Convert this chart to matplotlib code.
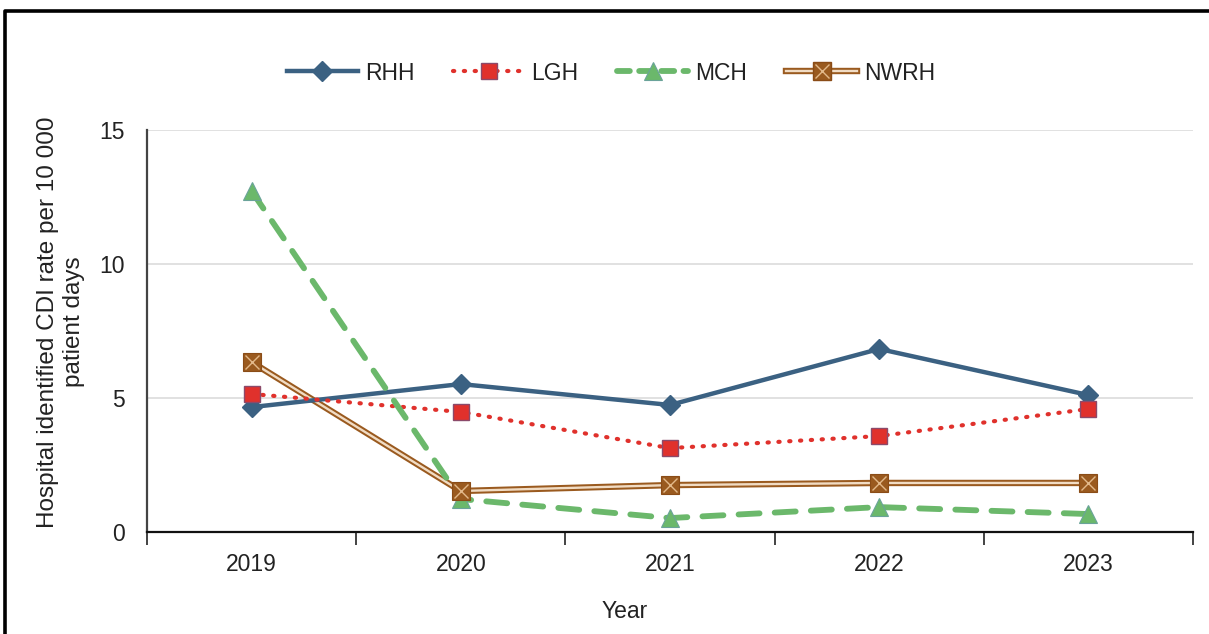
import matplotlib
matplotlib.use("Agg")
import matplotlib.pyplot as plt
from matplotlib.lines import Line2D
from matplotlib.legend_handler import HandlerTuple
import numpy as np

plt.rcParams['font.family'] = ['Liberation Sans', 'DejaVu Sans']

years = ["2019", "2020", "2021", "2022", "2023"]
rhh = [4.66, 5.52, 4.74, 6.83, 5.11]
lgh = [5.15, 4.48, 3.13, 3.58, 4.59]
mch = [12.72, 1.23, 0.52, 0.93, 0.67]
nwrh = [6.34, 1.53, 1.75, 1.83, 1.83]

C_RHH = "#3b6182"
C_LGH = "#e0312c"
C_MCH = "#6bb86b"
C_NWRH = "#9a5a1f"
C_NWRH_IN = "#f1dcc4"
TXT = "#222222"

fig = plt.figure(figsize=(12.09, 6.34), dpi=100)
ax = fig.add_axes([147/1209, 102/634, (1193-147)/1209, (532-130)/634])

x = np.arange(len(years))

LGH_LS = (0, (0.3, 2.3))
MCH_LS = (0, (3.6, 2.6))

ax.plot(x, rhh, color=C_RHH, lw=3.2, marker="D", ms=10, mfc=C_RHH, mec=C_RHH, zorder=4)
ax.plot(x, lgh, color=C_LGH, lw=3.0, ls=LGH_LS, dash_capstyle="round",
        marker="s", ms=11, mfc=C_LGH, mec="#8b4a6a", mew=1, zorder=4)
ax.plot(x, mch, color=C_MCH, lw=4.2, ls=MCH_LS, dash_capstyle="round",
        marker="^", ms=12.5, mfc=C_MCH, mec="#6aa39a", mew=0.8, zorder=4)
ax.plot(x, nwrh, color=C_NWRH, lw=4.6, zorder=3, solid_capstyle="butt")
ax.plot(x, nwrh, color=C_NWRH_IN, lw=1.7, zorder=3.1, solid_capstyle="butt")
ax.plot(x, nwrh, ls="none", marker="s", ms=12.5, mfc=C_NWRH, mec="#8a4c17", mew=0.8, zorder=5)
ax.plot(x, nwrh, ls="none", marker="x", ms=10.5, mec="#e3b98a", mew=1.0, zorder=6)

ax.set_xlim(-0.5, 4.5)
ax.set_ylim(0, 15)
ax.set_yticks([0, 5, 10, 15])
ax.set_xticks(x)
ax.set_xticklabels(years)
ax.set_xticks(np.arange(-0.5, 4.6, 1), minor=True)
ax.tick_params(axis="x", which="major", length=0, pad=15, labelsize=16.5, colors=TXT)
ax.tick_params(axis="x", which="minor", length=9, width=1.2, direction="out", color="#222222")
ax.tick_params(axis="y", length=0, pad=16, labelsize=16.5, colors=TXT)
ax.grid(axis="y", color="#d9d9d9", lw=1.1)
ax.set_axisbelow(True)

for s in ["top", "right"]:
    ax.spines[s].set_visible(False)
ax.spines["left"].set_color("#444444")
ax.spines["left"].set_linewidth(1.6)
ax.spines["bottom"].set_color("#111111")
ax.spines["bottom"].set_linewidth(1.6)

ax.set_xlabel("Year", fontsize=16.5, color=TXT)
ax.xaxis.set_label_coords((625-147)/1046, -(600-532)/402)
ax.set_ylabel("Hospital identified CDI rate per 10 000\npatient days", fontsize=17.5,
              color=TXT, linespacing=1.25)
ax.yaxis.set_label_coords(-(147-85)/1046, (532-322)/402)

h_rhh = Line2D([], [], color=C_RHH, lw=3.2, marker="D", ms=10)
h_lgh = Line2D([], [], color=C_LGH, lw=3.0, ls=LGH_LS, dash_capstyle="round",
               marker="s", ms=11, mfc=C_LGH, mec="#8b4a6a")
h_mch = Line2D([], [], color=C_MCH, lw=4.2, ls=(0, (2.2, 1.6)), dash_capstyle="round",
               marker="^", ms=12.5, mfc=C_MCH, mec="#6aa39a", mew=0.8)
h_n1 = Line2D([], [], color=C_NWRH, lw=4.6)
h_n2 = Line2D([], [], color=C_NWRH_IN, lw=1.7)
h_n3 = Line2D([], [], ls="none", marker="s", ms=12.5, mfc=C_NWRH, mec="#8a4c17")
h_n4 = Line2D([], [], ls="none", marker="x", ms=10.5, mec="#e3b98a", mew=1.0)

fig.legend([h_rhh, h_lgh, h_mch, (h_n1, h_n2, h_n3, h_n4)],
           ["RHH", "LGH", "MCH", "NWRH"],
           handler_map={tuple: HandlerTuple(ndivide=1, pad=0)},
           loc="center", bbox_to_anchor=(611/1209, 1 - 73/634), ncol=4, frameon=False,
           fontsize=16.5, handlelength=3.1, handletextpad=0.3, columnspacing=1.7,
           labelcolor=TXT)

# outer frame
fig.add_artist(Line2D([5/1209, 5/1209, 1.0], [0.0, 1 - 11/634, 1 - 11/634],
                      transform=fig.transFigure, color="black", lw=2.6))

fig.savefig("out.png", dpi=100, facecolor="white")
